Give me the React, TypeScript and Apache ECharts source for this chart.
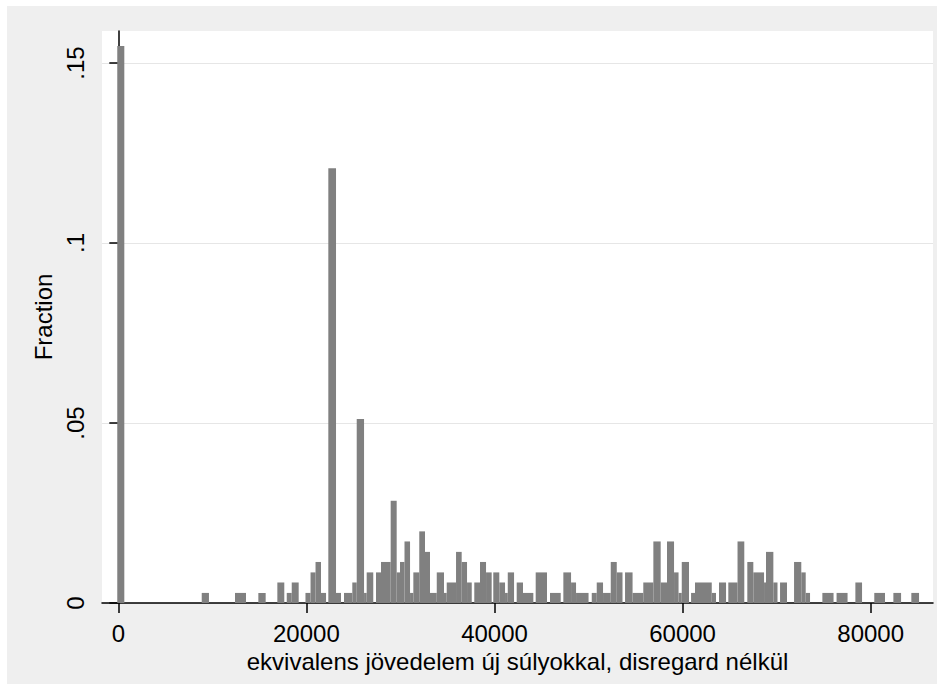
import React, { useEffect, useRef } from "react";
import * as echarts from "echarts";

// Tick values
const X_TICKS = [0, 20000, 40000, 60000, 80000];
const Y_TICKS = [0, 0.05, 0.1, 0.15];

// Histogram bars: income range (Ft) covered by each visible bar and its fraction
const BIN_FROM = [
  -110, 8870, 12410, 14890, 16910, 17910, 18440, 19900, 20440, 20970,
  21550, 22330, 23150, 24000, 24880, 25350, 26130, 26410, 27400, 27930,
  28960, 29600, 29950, 30430, 31020, 31370, 32000, 32610, 33140, 33860,
  34630, 34920, 35910, 36510, 37080, 37850, 38460, 39100, 39870, 40510,
  41120, 41410, 42360, 43030, 44380, 45900, 47320, 48140, 48670, 50340,
  50870, 51540, 52360, 53000, 53880, 54680, 55820, 56890, 57670, 58340,
  59090, 59570, 59910, 60900, 61320, 63100, 63870, 64860, 65840, 66880,
  67520, 68660, 68870, 69650, 70360, 71850, 72620, 73090, 74860, 76370,
  78370, 80380, 82410, 84320,
];
const BIN_TO = [
  640, 9640, 13580, 15670, 17650, 18440, 19180, 20440, 20970, 21550,
  22090, 23150, 23680, 24880, 25350, 26130, 26410, 27110, 27930, 28960,
  29600, 29950, 30430, 31020, 31370, 32000, 32610, 33140, 33860, 34630,
  34920, 35910, 36510, 37080, 37580, 38460, 39100, 39700, 40510, 41120,
  41410, 42080, 43030, 44130, 45580, 47040, 48140, 48670, 50000, 50870,
  51540, 52360, 53000, 53610, 54680, 55820, 56890, 57670, 58340, 59090,
  59570, 59910, 60680, 61320, 63100, 63550, 64620, 65840, 66560, 67520,
  68660, 68870, 69650, 70090, 71100, 72620, 73090, 73550, 76050, 77540,
  79080, 81520, 83230, 85140,
];
const FRACTION = [
  0.1547, 0.0028, 0.0028, 0.0028, 0.0057, 0.0028, 0.0057, 0.0028, 0.0085, 0.0114,
  0.0028, 0.1208, 0.0028, 0.0028, 0.0057, 0.0511, 0.0028, 0.0085, 0.0085, 0.0114,
  0.0284, 0.0085, 0.0114, 0.0171, 0.0028, 0.0085, 0.0199, 0.0142, 0.0028, 0.0085,
  0.0028, 0.0057, 0.0142, 0.0114, 0.0057, 0.0057, 0.0114, 0.0085, 0.0085, 0.0057,
  0.0028, 0.0085, 0.0057, 0.0028, 0.0085, 0.0028, 0.0085, 0.0057, 0.0028, 0.0028,
  0.0057, 0.0028, 0.0114, 0.0085, 0.0085, 0.0028, 0.0057, 0.0171, 0.0057, 0.0171,
  0.0085, 0.0028, 0.0114, 0.0028, 0.0057, 0.0028, 0.0057, 0.0057, 0.0171, 0.0114,
  0.0085, 0.0057, 0.0142, 0.0057, 0.0057, 0.0114, 0.0085, 0.0028, 0.0028, 0.0028,
  0.0057, 0.0028, 0.0028, 0.0028,
];

const X_TITLE = "ekvivalens jövedelem új súlyokkal, disregard nélkül";
const Y_TITLE = "Fraction";

const FONT = "'Liberation Sans', Arial, Helvetica, sans-serif";
const FONT_SIZE = 24;
const BAR_COLOR = "#808080";

export default function App() {
  const ref = useRef<HTMLDivElement>(null);

  useEffect(() => {
    if (!ref.current) return;
    const chart = echarts.init(ref.current, null, { renderer: "svg" });
    const data = BIN_FROM.map((f, i) => [f, BIN_TO[i], FRACTION[i]]);

    const renderItem = (params: any, api: any) => {
      const x0 = api.value(0);
      const x1 = api.value(1);
      const y = api.value(2);
      const p0 = api.coord([x0, y]);
      const p1 = api.coord([x1, 0]);
      return {
        type: "rect",
        shape: { x: p0[0], y: p0[1], width: p1[0] - p0[0], height: p1[1] - p0[1] },
        style: { fill: BAR_COLOR },
      };
    };

    chart.setOption({
      animation: false,
      backgroundColor: "#efefef",
      grid: {
        left: 95,
        right: 4,
        top: 25,
        bottom: 81,
        show: true,
        backgroundColor: "#ffffff",
        borderWidth: 0,
      },
      xAxis: {
        type: "value",
        min: -1733,
        max: 86624,
        axisLine: { show: true, onZero: false, lineStyle: { color: "#000", width: 1.5 } },
        axisTick: { show: true, length: 10, customValues: X_TICKS, lineStyle: { color: "#000", width: 1.5 } },
        axisLabel: {
          customValues: X_TICKS,
          margin: 18,
          color: "#000",
          fontFamily: FONT,
          fontSize: FONT_SIZE,
          formatter: (v: number) => String(v),
        },
        splitLine: { show: false },
        name: X_TITLE,
        nameLocation: "middle",
        nameGap: 42,
        nameTextStyle: { color: "#000", fontFamily: FONT, fontSize: FONT_SIZE },
      },
      yAxis: {
        type: "value",
        min: 0,
        max: 0.1589,
        axisLine: { show: true, lineStyle: { color: "#000", width: 1.5 } },
        axisTick: { show: true, length: 9, customValues: Y_TICKS, lineStyle: { color: "#000", width: 1.5 } },
        axisLabel: {
          customValues: Y_TICKS,
          rotate: 90,
          margin: 15,
          color: "#000",
          fontFamily: FONT,
          fontSize: FONT_SIZE,
          formatter: (v: number) => (v === 0 ? "0" : String(v).replace(/^0\./, ".")),
        },
        splitLine: { show: true, lineStyle: { color: "#e6e6e6", width: 1.2 } },
        name: Y_TITLE,
        nameLocation: "middle",
        nameRotate: 90,
        nameGap: 40,
        nameTextStyle: { color: "#000", fontFamily: FONT, fontSize: FONT_SIZE },
      },
      series: [
        {
          type: "custom",
          renderItem,
          data,
          encode: { x: [0, 1], y: 2 },
          clip: true,
        },
      ],
    });

    return () => chart.dispose();
  }, []);

  return (
    <div
      ref={ref}
      style={{ position: "fixed", left: 7, top: 6, width: 930, height: 678 }}
    />
  );
}
